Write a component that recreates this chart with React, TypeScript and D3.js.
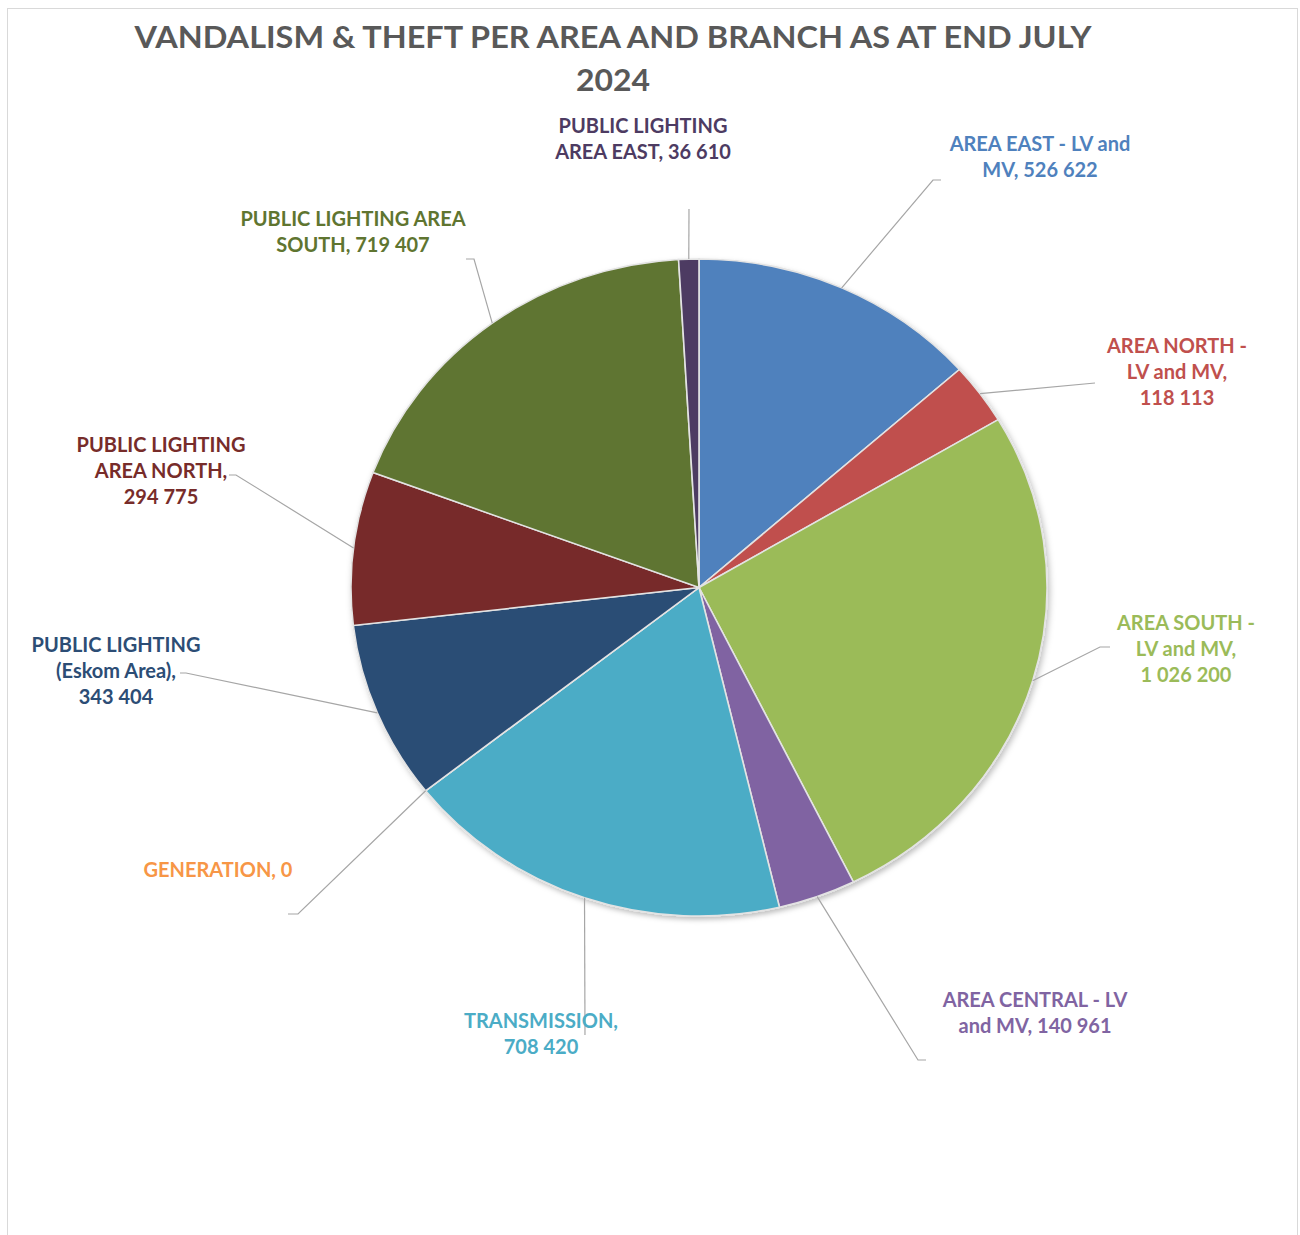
import React from "react";
import * as d3 from "d3";

const categories = [
  "AREA EAST - LV and MV",
  "AREA NORTH - LV and MV",
  "AREA SOUTH - LV and MV",
  "AREA CENTRAL - LV and MV",
  "TRANSMISSION",
  "GENERATION",
  "PUBLIC LIGHTING (Eskom Area)",
  "PUBLIC LIGHTING AREA NORTH",
  "PUBLIC LIGHTING AREA SOUTH",
  "PUBLIC LIGHTING AREA EAST",
];
const values = [526622, 118113, 1026200, 140961, 708420, 0, 343404, 294775, 719407, 36610];
const colors = ["#4f81bd", "#c0504d", "#9bbb59", "#8064a2", "#4bacc6", "#f79646", "#2c4d75", "#772c2a", "#5f7530", "#4d3b62"];
const titleLines = ["VANDALISM & THEFT PER AREA AND BRANCH AS AT END JULY", "2024"];

// layout: words per wrapped line, label centre / first baseline, leader elbow + end
const wrap = [[5, 3], [3, 3, 2], [3, 3, 3], [4, 4], [1, 2], [2], [2, 2, 2], [2, 2, 2], [3, 3], [2, 4]];
const labelPos: [number, number][] = [
  [1040, 151], [1177, 353], [1186, 630], [1035, 1007], [541, 1028],
  [218, 877], [116, 652], [161, 452], [353, 226], [643, 133],
];
const leaderPts: [number, number][][] = [
  [[933, 180], [941, 180]],
  [[1095, 383]],
  [[1100, 647], [1110, 647]],
  [[918, 1060], [926, 1060]],
  [[585, 1035]],
  [[298, 914], [288, 914]],
  [[186, 673], [180, 673]],
  [[236, 475], [229, 475]],
  [[474, 259], [466, 259]],
  [[689, 209]],
];

const CX = 699, CY = 587.5, R = 348, SY = 328.6 / 348;
const fmt = (v: number) => d3.format(",")(v).replace(/,/g, " ");

export default function App() {
  const pie = d3.pie<number>().sort(null).value((d) => d)(values);
  const arc = d3.arc<d3.PieArcDatum<number>>().innerRadius(0).outerRadius(R);
  const font = "Lato, 'Open Sans', sans-serif";

  return (
    <svg width={1300} height={1235} style={{ position: "absolute", left: 0, top: 0, background: "#fff" }}>
      <defs>
        <filter id="sh" x="-10%" y="-10%" width="120%" height="120%">
          <feDropShadow dx="2" dy="3" stdDeviation="3" floodColor="#000" floodOpacity="0.25" />
        </filter>
      </defs>
      <rect x={7.5} y={8.5} width={1290} height={1240} fill="#fff" stroke="#d9d9d9" strokeWidth={1} />
      {titleLines.map((t, i) => (
        <text key={i} x={613} y={48 + i * 43} textAnchor="middle" fontFamily={font} fontWeight={700}
          fontSize={31} fill="#595959" textLength={i === 0 ? 957 : 74} lengthAdjust="spacingAndGlyphs">{t}</text>
      ))}
      <g transform={`translate(${CX},${CY}) scale(1,${SY})`} filter="url(#sh)">
        {pie.map((d, i) => (
          <path key={i} d={arc(d) || ""} fill={colors[i]} stroke="#e3e3e3" strokeWidth={1.6} />
        ))}
      </g>
      {pie.map((d, i) => {
        const a = (d.startAngle + d.endAngle) / 2;
        const sx = CX + R * Math.sin(a);
        const sy = CY - R * SY * Math.cos(a);
        const pts = [[sx, sy], ...leaderPts[i]];
        return (
          <path key={"l" + i} d={d3.line()(pts as [number, number][]) || ""} fill="none" stroke="#a6a6a6" strokeWidth={1.2} />
        );
      })}
      {categories.map((c, i) => {
        const words = `${c}, ${fmt(values[i])}`.split(" ");
        let k = 0;
        const lines = wrap[i].map((n) => { const l = words.slice(k, k + n).join(" "); k += n; return l; });
        return (
          <text key={"t" + i} textAnchor="middle" fontFamily={font} fontWeight={700} fontSize={20} fill={colors[i]}>
            {lines.map((l, j) => (
              <tspan key={j} x={labelPos[i][0]} y={labelPos[i][1] + j * 26}>{l}</tspan>
            ))}
          </text>
        );
      })}
    </svg>
  );
}
